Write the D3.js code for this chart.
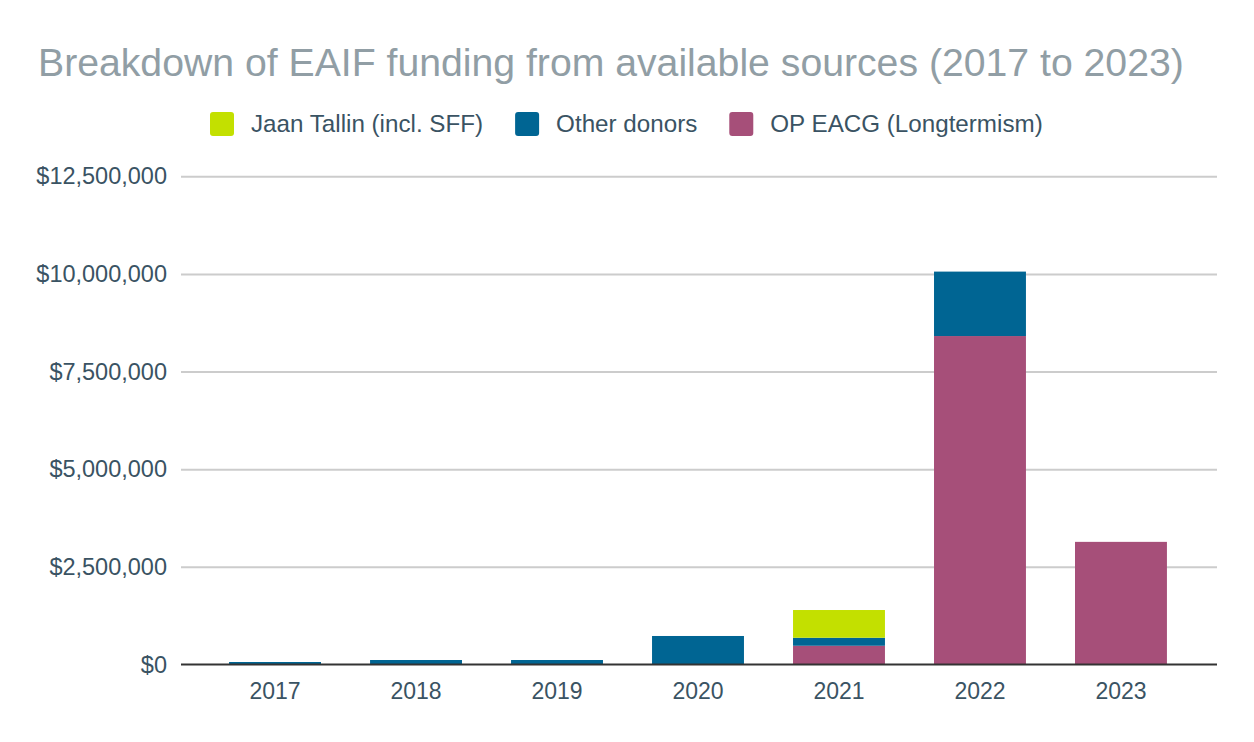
<!DOCTYPE html>
<html>
<head>
<meta charset="utf-8">
<script src="https://cdn.jsdelivr.net/npm/d3@7"></script>
<style>
  html, body { margin: 0; padding: 0; background: #fff; }
  svg { display: block; font-family: "Liberation Sans", Arial, sans-serif; }
</style>
</head>
<body>
<svg id="chart" width="1254" height="742"></svg>
<script>
const years = ["2017", "2018", "2019", "2020", "2021", "2022", "2023"];
const seriesNames = ["OP EACG (Longtermism)", "Other donors", "Jaan Tallin (incl. SFF)"];
const opEacg = [0, 0, 0, 0, 480000, 8410000, 3140000];
const otherDonors = [64000, 115000, 115000, 730000, 205000, 1650000, 0];
const jaanTallin = [0, 0, 0, 0, 710000, 0, 0];
const yTicks = [0, 2500000, 5000000, 7500000, 10000000, 12500000];
const legendOrder = ["Jaan Tallin (incl. SFF)", "Other donors", "OP EACG (Longtermism)"];
const colors = {
  "OP EACG (Longtermism)": "#a64f79",
  "Other donors": "#006593",
  "Jaan Tallin (incl. SFF)": "#c3e000"
};

const svg = d3.select("#chart");
const margin = { left: 181, right: 37, top: 176.3, bottom: 77.5 };
const W = 1254, H = 742;
const textColor = "#3a5363";

const x = d3.scaleBand().domain(years).range([margin.left - 1, W - margin.right - 1])
  .paddingInner(0.348).paddingOuter(0.348);
const y = d3.scaleLinear().domain([0, 12500000]).range([H - margin.bottom, margin.top]);

const rows = years.map((yr, i) => ({
  year: yr,
  "OP EACG (Longtermism)": opEacg[i],
  "Other donors": otherDonors[i],
  "Jaan Tallin (incl. SFF)": jaanTallin[i]
}));
const stacked = d3.stack().keys(seriesNames)(rows);

// title
svg.append("text")
  .attr("x", 38).attr("y", 76)
  .attr("fill", "#919ea5")
  .attr("font-size", 39.2)
  .text("Breakdown of EAIF funding from available sources (2017 to 2023)");

// gridlines + y labels
const yAxis = d3.axisLeft(y).tickValues(yTicks)
  .tickFormat(d => "$" + d3.format(",")(d))
  .tickSize(-(W - margin.left - margin.right)).tickPadding(14);
const gy = svg.append("g").attr("transform", `translate(${margin.left},0)`).call(yAxis);
gy.select(".domain").remove();
gy.selectAll(".tick line").attr("stroke", "#cccccc").attr("stroke-width", 2)
  .filter(d => d === 0).attr("stroke", "none");
gy.selectAll(".tick text").attr("fill", textColor).attr("font-size", 23.5)
  .attr("font-family", "'Liberation Sans', Arial, sans-serif");

// bars
svg.append("g").selectAll("g").data(stacked).join("g")
  .attr("fill", d => colors[d.key])
  .selectAll("rect").data(d => d).join("rect")
  .attr("x", d => x(d.data.year))
  .attr("width", x.bandwidth())
  .attr("y", d => y(d[1]))
  .attr("height", d => Math.max(0, y(d[0]) - y(d[1])));

// x axis
const xAxis = d3.axisBottom(x).tickSize(0).tickPadding(18);
const gx = svg.append("g").attr("transform", `translate(0,${y(0)})`).call(xAxis);
gx.select(".domain").attr("stroke", "#333333").attr("stroke-width", 2)
  .attr("d", `M${margin.left},0H${W - margin.right}`);
gx.selectAll(".tick text").attr("fill", textColor).attr("font-size", 23)
  .attr("font-family", "'Liberation Sans', Arial, sans-serif");

// legend
const legend = svg.append("g");
let lx = 210;
legendOrder.forEach(name => {
  const g = legend.append("g").attr("transform", `translate(${lx},112)`);
  g.append("rect").attr("width", 24).attr("height", 24).attr("rx", 3)
    .attr("fill", colors[name]);
  const t = g.append("text").attr("x", 41).attr("y", 12).attr("dy", "0.35em")
    .attr("fill", textColor).attr("font-size", 24.2).text(name);
  lx += 41 + t.node().getComputedTextLength() + 32;
});
</script>
</body>
</html>
